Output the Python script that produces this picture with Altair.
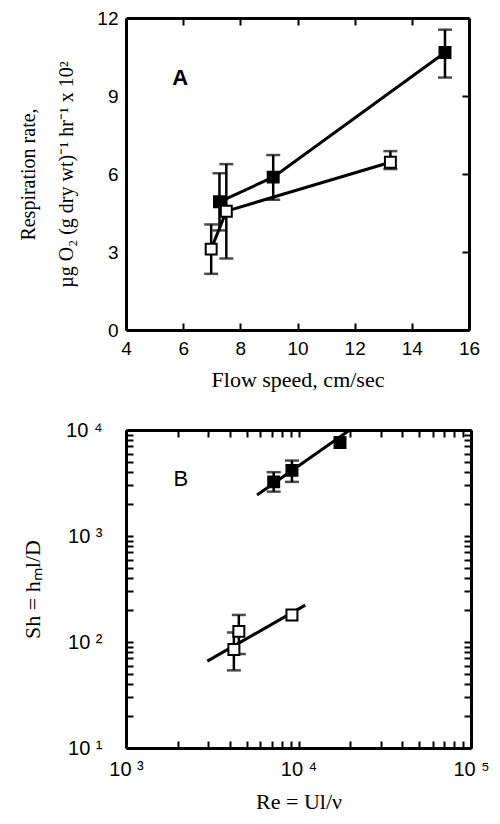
import altair as alt
import pandas as pd

# ---------------- Panel A: respiration rate vs flow speed ----------------
a_filled_speed = [7.27, 9.15, 15.16]
a_filled_rate = [4.93, 5.88, 10.67]
a_filled_lo = [3.83, 5.01, 9.71]
a_filled_hi = [6.03, 6.73, 11.55]

a_open_speed = [6.98, 7.51, 13.25]
a_open_rate = [3.11, 4.57, 6.45]
a_open_lo = [2.16, 2.75, 6.19]
a_open_hi = [4.06, 6.38, 6.88]

a_x_ticks = [4, 6, 8, 10, 12, 14, 16]
a_y_ticks = [0, 3, 6, 9, 12]

# ---------------- Panel B: Sh vs Re (log-log) ----------------
b_filled_re = [7180, 9160, 17400]
b_filled_sh = [3240, 4160, 7620]
b_filled_err_re = [7180, 9160]
b_filled_lo = [2620, 3240]
b_filled_hi = [4000, 5150]
b_filled_fit_re = [5750, 19450]
b_filled_fit_sh = [2440, 9790]

b_open_re = [4220, 4510, 9160]
b_open_sh = [85, 126, 180]
b_open_err_re = [4220, 4510]
b_open_lo = [54, 77]
b_open_hi = [123, 180]
b_open_fit_re = [2960, 10940]
b_open_fit_sh = [66, 223]

b_x_ticks = [m * 10 ** e for e in (3, 4) for m in range(1, 10)] + [100000]
b_y_ticks = [m * 10 ** e for e in (1, 2, 3) for m in range(1, 10)] + [10000]

SANS = "Liberation Sans"
SERIF = "Liberation Serif"
TICK_IN = {"expr": "-7"}
LW = 2.5

groups = ["filled", "open"]
fill_scale = alt.Scale(domain=groups, range=["black", "white"])

# ---------- data frames ----------
a_df = pd.DataFrame({
    "speed": a_filled_speed + a_open_speed,
    "rate": a_filled_rate + a_open_rate,
    "lo": a_filled_lo + a_open_lo,
    "hi": a_filled_hi + a_open_hi,
    "group": ["filled"] * 3 + ["open"] * 3,
})
a_lab = pd.DataFrame({"speed": [5.9], "rate": [9.7], "t": ["A"]})

b_pts = pd.DataFrame({
    "re": b_filled_re + b_open_re,
    "sh": b_filled_sh + b_open_sh,
    "group": ["filled"] * 3 + ["open"] * 3,
})
b_err = pd.DataFrame({
    "re": b_filled_err_re + b_open_err_re,
    "lo": b_filled_lo + b_open_lo,
    "hi": b_filled_hi + b_open_hi,
})
b_fit = pd.DataFrame({
    "re": b_filled_fit_re + b_open_fit_re,
    "sh": b_filled_fit_sh + b_open_fit_sh,
    "group": ["filled"] * 2 + ["open"] * 2,
})
b_lab = pd.DataFrame({"re": [2080], "sh": [3480], "t": ["B"]})


def tick_axis(orient, values, labels=True, labelFontSize=19, ticks=True, titleFontSize=22, **kw):
    return alt.Axis(
        orient=orient, values=values, ticks=ticks, tickSize=TICK_IN, tickWidth=2, tickColor="black",
        domain=True, domainColor="black", domainWidth=3, grid=False,
        labels=labels, labelFont=SANS, labelFontSize=labelFontSize,
        labelColor="black", labelFlush=False, labelOverlap=False,
        titleFont=SERIF, titleFontSize=titleFontSize, titleFontWeight="normal", titleColor="black",
        **kw,
    )


# ---------------- Panel A ----------------
xA = alt.Scale(domain=[4, 16], nice=False, zero=False)
yA = alt.Scale(domain=[0, 12], nice=False, zero=False)


def xa(field="speed", axis=None):
    return alt.X(f"{field}:Q", scale=xA, axis=axis)


def ya(field="rate", axis=None):
    return alt.Y(f"{field}:Q", scale=yA, axis=axis)


baseA = alt.Chart(a_df)
axesA1 = baseA.mark_point(opacity=0).encode(
    x=xa(axis=tick_axis("bottom", a_x_ticks, title="Flow speed, cm/sec", labelPadding=16, titlePadding=11)),
    y=ya(axis=tick_axis("left", a_y_ticks, ticks=False, labelPadding=8,
                        title=["Respiration rate,", "µg O₂ (g dry wt)⁻¹ hr⁻¹ x 10²"],
                        titleFontSize=20, titleLineHeight=38, titlePadding=20)),
)
axesA2 = baseA.mark_point(opacity=0).encode(
    x=xa(axis=tick_axis("top", a_x_ticks, labels=False, title=None)),
    y=ya(axis=tick_axis("right", a_y_ticks, labels=False, title=None)),
)
lineA = baseA.mark_line(color="black", strokeWidth=3).encode(x=xa(), y=ya(), detail="group:N")
errA = baseA.mark_rule(color="black", strokeWidth=LW).encode(x=xa(), y=ya("lo"), y2="hi:Q")
capLoA = baseA.mark_tick(orient="horizontal", color="black", size=14, thickness=LW).encode(x=xa(), y=ya("lo"))
capHiA = baseA.mark_tick(orient="horizontal", color="black", size=14, thickness=LW).encode(x=xa(), y=ya("hi"))
ptsA = baseA.mark_square(size=120, opacity=1, stroke="black", strokeWidth=2).encode(
    x=xa(), y=ya(), fill=alt.Fill("group:N", scale=fill_scale, legend=None))
labA = alt.Chart(a_lab).mark_text(font=SANS, fontSize=22, fontWeight="bold", color="black").encode(
    x=xa(), y=ya(), text="t:N")

panelA = alt.layer(axesA1, axesA2, lineA, errA, capLoA, capHiA, ptsA, labA).resolve_axis(
    x="independent", y="independent").properties(width=343, height=312)

# ---------------- Panel B ----------------
xB = alt.Scale(type="log", domain=[1000, 100000], nice=False)
yB = alt.Scale(type="log", domain=[10, 10000], nice=False)

x_lab_expr = ("datum.value == 1000 ? '10 ³' : datum.value == 10000 ? '10 ⁴' : "
              "datum.value == 100000 ? '10 ⁵' : ''")
y_lab_expr = ("datum.value == 10 ? '10 ¹' : datum.value == 100 ? '10 ²' : "
              "datum.value == 1000 ? '10 ³' : datum.value == 10000 ? '10 ⁴' : ''")


def xb(field="re", axis=None):
    return alt.X(f"{field}:Q", scale=xB, axis=axis)


def yb(field="sh", axis=None):
    return alt.Y(f"{field}:Q", scale=yB, axis=axis)


axesB1 = alt.Chart(b_pts).mark_point(opacity=0).encode(
    x=xb(axis=tick_axis("bottom", b_x_ticks, title="Re = Ul/ν", labelExpr=x_lab_expr,
                        labelFontSize=20, labelPadding=18, titlePadding=12)),
    y=yb(axis=tick_axis("left", b_y_ticks, title="Sh = hₘl/D", labelExpr=y_lab_expr,
                        labelFontSize=20, labelPadding=31, titlePadding=21)),
)
axesB2 = alt.Chart(b_pts).mark_point(opacity=0).encode(
    x=xb(axis=tick_axis("top", b_x_ticks, labels=False, title=None)),
    y=yb(axis=tick_axis("right", b_y_ticks, labels=False, title=None)),
)
fitB = alt.Chart(b_fit).mark_line(color="black", strokeWidth=3).encode(x=xb(), y=yb(), detail="group:N")
errB = alt.Chart(b_err).mark_rule(color="black", strokeWidth=LW).encode(x=xb(), y=yb("lo"), y2="hi:Q")
capLoB = alt.Chart(b_err).mark_tick(orient="horizontal", color="black", size=14, thickness=LW).encode(x=xb(), y=yb("lo"))
capHiB = alt.Chart(b_err).mark_tick(orient="horizontal", color="black", size=14, thickness=LW).encode(x=xb(), y=yb("hi"))
ptsB = alt.Chart(b_pts).mark_square(size=120, opacity=1, stroke="black", strokeWidth=2).encode(
    x=xb(), y=yb(), fill=alt.Fill("group:N", scale=fill_scale, legend=None))
labB = alt.Chart(b_lab).mark_text(font=SANS, fontSize=22, color="black").encode(x=xb(), y=yb(), text="t:N")

panelB = alt.layer(axesB1, axesB2, fitB, errB, capLoB, capHiB, ptsB, labB).resolve_axis(
    x="independent", y="independent").properties(width=345, height=318)

chart = alt.vconcat(panelA, panelB, spacing=100, bounds="flush").properties(
    padding={"left": 10, "top": 0, "right": 0, "bottom": 0}
).configure_view(stroke=None).configure(background="white")

chart.save("out.html", embed_options={"renderer": "svg", "actions": False})
